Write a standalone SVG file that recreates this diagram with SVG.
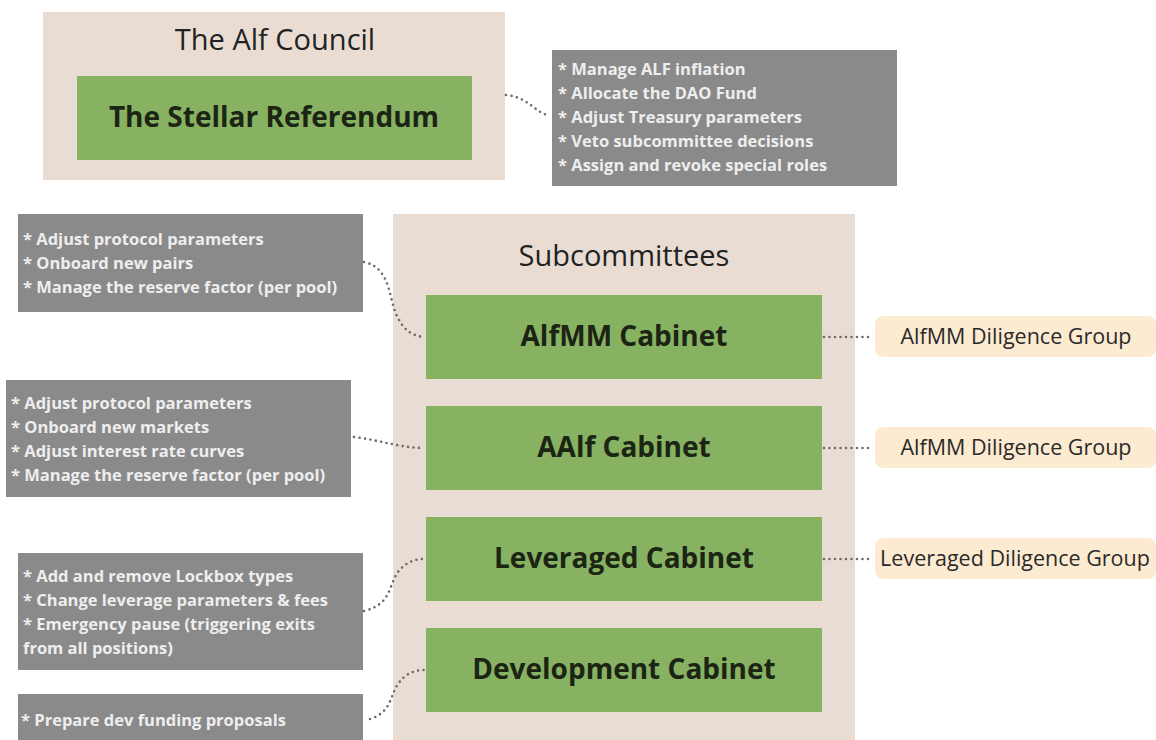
<svg xmlns="http://www.w3.org/2000/svg" width="1156" height="740" viewBox="0 0 1156 740">
<style>
.panel{fill:#e9ddd3}
.green{fill:#86b262}
.gray{fill:#8a8a8a}
.dil{fill:#fcebd0}
.title{font-family:"Open Sans",sans-serif;font-size:29px;fill:#222;text-anchor:middle}
.cab{font-family:"Open Sans",sans-serif;font-size:28px;font-weight:bold;fill:#1c2414;text-anchor:middle}
.note{font-family:"Open Sans",sans-serif;font-size:16.5px;font-weight:bold;fill:#eeeeee}
.dtxt{font-family:"Open Sans",sans-serif;font-size:21.5px;fill:#2a2a2a;text-anchor:middle}
.con{fill:none;stroke:#6a6a6a;stroke-width:2.6;stroke-linecap:round;stroke-dasharray:0 5.5}
</style>
<rect width="1156" height="740" fill="#ffffff"/>
<g id="council">
<rect class="panel" x="43" y="12" width="462" height="168"/>
<text class="title" x="275" y="50">The Alf Council</text>
</g>
<g id="referendum">
<rect class="green" x="77" y="76" width="395" height="84"/>
<text class="cab" x="274" y="127">The Stellar Referendum</text>
</g>
<g id="council-notes">
<rect class="gray" x="552" y="50" width="345" height="136"/>
<text class="note" x="558" y="75">* Manage ALF inflation</text>
<text class="note" x="558" y="99">* Allocate the DAO Fund</text>
<text class="note" x="558" y="123">* Adjust Treasury parameters</text>
<text class="note" x="558" y="147">* Veto subcommittee decisions</text>
<text class="note" x="558" y="171">* Assign and revoke special roles</text>
</g>
<g id="subcommittees">
<rect class="panel" x="393" y="214" width="462" height="530"/>
<text class="title" x="624" y="266">Subcommittees</text>
</g>
<g id="alfmm-cabinet">
<rect class="green" x="426" y="295" width="396" height="84"/>
<text class="cab" x="624" y="346">AlfMM Cabinet</text>
</g>
<g id="aalf-cabinet">
<rect class="green" x="426" y="406" width="396" height="84"/>
<text class="cab" x="624" y="457">AAlf Cabinet</text>
</g>
<g id="leveraged-cabinet">
<rect class="green" x="426" y="517" width="396" height="84"/>
<text class="cab" x="624" y="568">Leveraged Cabinet</text>
</g>
<g id="development-cabinet">
<rect class="green" x="426" y="628" width="396" height="84"/>
<text class="cab" x="624" y="679">Development Cabinet</text>
</g>
<g id="alfmm-notes">
<rect class="gray" x="18" y="214" width="345" height="98"/>
<text class="note" x="23" y="245">* Adjust protocol parameters</text>
<text class="note" x="23" y="269">* Onboard new pairs</text>
<text class="note" x="23" y="293">* Manage the reserve factor (per pool)</text>
</g>
<g id="aalf-notes">
<rect class="gray" x="6" y="380" width="345" height="117"/>
<text class="note" x="11" y="409">* Adjust protocol parameters</text>
<text class="note" x="11" y="433">* Onboard new markets</text>
<text class="note" x="11" y="457">* Adjust interest rate curves</text>
<text class="note" x="11" y="481">* Manage the reserve factor (per pool)</text>
</g>
<g id="leveraged-notes">
<rect class="gray" x="18" y="553" width="345" height="117"/>
<text class="note" x="23" y="582">* Add and remove Lockbox types</text>
<text class="note" x="23" y="606">* Change leverage parameters &amp; fees</text>
<text class="note" x="23" y="630">* Emergency pause (triggering exits</text>
<text class="note" x="23" y="654">from all positions)</text>
</g>
<g id="development-notes">
<rect class="gray" x="18" y="694" width="345" height="50"/>
<text class="note" x="21" y="726">* Prepare dev funding proposals</text>
</g>
<g id="alfmm-diligence">
<rect class="dil" x="875" y="316" width="281" height="41" rx="8"/>
<text class="dtxt" x="1016" y="344">AlfMM Diligence Group</text>
</g>
<g id="aalf-diligence">
<rect class="dil" x="875" y="427" width="281" height="41" rx="8"/>
<text class="dtxt" x="1016" y="455">AlfMM Diligence Group</text>
</g>
<g id="leveraged-diligence">
<rect class="dil" x="875" y="538" width="281" height="41" rx="8"/>
<text class="dtxt" x="1015" y="566">Leveraged Diligence Group</text>
</g>
<g id="connectors">
<path class="con" d="M506,95 C528,97 534,112 550,116"/>
<path class="con" d="M364,262 C392,268 388,300 398,318 C405,332 414,336 424,337"/>
<path class="con" d="M354,437 C380,440 400,448 424,448"/>
<path class="con" d="M364,611 C392,604 388,586 398,572 C405,563 414,559 424,559"/>
<path class="con" d="M370,719 C392,712 390,695 398,684 C405,674 414,670 424,670"/>
<path class="con" d="M824,337 L873,337"/>
<path class="con" d="M824,448 L873,448"/>
<path class="con" d="M824,559 L873,559"/>
</g>
</svg>
